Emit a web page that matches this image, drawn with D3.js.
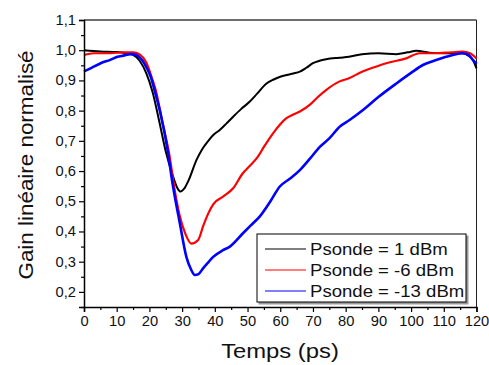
<!DOCTYPE html>
<meta charset="utf-8">
<title>Gain linéaire normalisé</title>
<body>
<script src="https://cdn.jsdelivr.net/npm/d3@7"></script>
<style>
html, body {
    margin: 0;
    background: #fff;
}
svg text {
    font-family: "Liberation Sans", Arial, sans-serif;
    fill: #111;
}
</style>
<script>
// Psonde = 1 dBm
var tBlack = [0, 5, 10, 13, 15, 17, 19, 21, 23, 25, 27, 28.5, 29.5, 30.5, 32, 34.4, 36, 38, 39.6, 41.5, 43.5, 45.6, 48, 50.7, 53, 55.8, 58, 60, 62, 64, 66, 68, 70, 72, 74, 78, 81, 85, 90, 95.5, 99, 101.6, 105.6, 110, 115.7, 117.5, 118.9, 120];
var vBlack = [1.0, 0.996, 0.994, 0.99, 0.985, 0.965, 0.925, 0.86, 0.765, 0.665, 0.59, 0.545, 0.532, 0.54, 0.57, 0.637, 0.67, 0.70, 0.72, 0.736, 0.757, 0.78, 0.805, 0.83, 0.857, 0.89, 0.903, 0.912, 0.918, 0.923, 0.929, 0.942, 0.957, 0.965, 0.97, 0.975, 0.978, 0.987, 0.99, 0.987, 0.993, 0.998, 0.992, 0.99, 0.99, 0.982, 0.968, 0.94];

// Psonde = -6 dBm
var tRed = [0, 3, 8, 12, 15, 17, 19, 21, 22, 24, 26, 28, 29.3, 31, 32.8, 34.9, 36.5, 38, 39.5, 42.5, 45.6, 48.5, 50.5, 53, 55, 57.8, 60, 61.9, 64, 66, 69, 71.5, 74, 78, 81, 85, 88.5, 92.4, 98.5, 102.6, 106, 110.7, 115.8, 118, 120];
var vRed = [0.984, 0.99, 0.99, 0.993, 0.993, 0.986, 0.96, 0.90, 0.865, 0.76, 0.66, 0.52, 0.45, 0.392, 0.36, 0.372, 0.42, 0.46, 0.49, 0.515, 0.543, 0.592, 0.615, 0.645, 0.68, 0.725, 0.755, 0.775, 0.787, 0.797, 0.819, 0.845, 0.868, 0.896, 0.907, 0.929, 0.943, 0.957, 0.973, 0.99, 0.99, 0.992, 0.995, 0.99, 0.973];

// Psonde = -13 dBm
var tBlue = [0, 2, 5.1, 8, 10.2, 12, 14.3, 16, 17.3, 18.5, 20.4, 22, 23.4, 25.4, 27.2, 29.3, 31.3, 32.7, 33.9, 35, 36.4, 38, 39.5, 42.5, 44.6, 48.6, 51, 53.7, 57, 59.8, 63, 66, 69, 72.1, 75, 78.2, 81.2, 85.3, 90, 95.5, 100, 103.6, 107, 110.7, 113, 115.8, 117.5, 118.9, 120];
var vBlue = [0.93, 0.94, 0.957, 0.968, 0.978, 0.982, 0.987, 0.984, 0.973, 0.955, 0.912, 0.85, 0.79, 0.68, 0.55, 0.427, 0.316, 0.275, 0.256, 0.259, 0.278, 0.298, 0.316, 0.338, 0.35, 0.394, 0.42, 0.449, 0.50, 0.548, 0.575, 0.603, 0.64, 0.68, 0.708, 0.747, 0.769, 0.802, 0.845, 0.89, 0.925, 0.951, 0.965, 0.978, 0.985, 0.99, 0.985, 0.968, 0.955];

var series = [
    {name: "Psonde = 1 dBm", t: tBlack, v: vBlack, color: "#000000", width: 2},
    {name: "Psonde = -6 dBm", t: tRed, v: vRed, color: "#ff0000", width: 2.2},
    {name: "Psonde = -13 dBm", t: tBlue, v: vBlue, color: "#0000ff", width: 2.6}
];

var xTicks = d3.range(0, 121, 10);
var yTicks = [0.2, 0.3, 0.4, 0.5, 0.6, 0.7, 0.8, 0.9, 1.0, 1.1];

var width = 489,
    height = 365,
    margin = {top: 20, right: 12, bottom: 58, left: 84};

var x = d3.scaleLinear().domain([0, 120]).range([margin.left, width - margin.right - 0.5]);
var y = d3.scaleLinear().domain([0.15, 1.1]).range([height - margin.bottom, margin.top]);

var svg = d3.select("body").append("svg")
    .attr("width", width)
    .attr("height", height);

var comma = function(d) { return d3.format(".1f")(d).replace(".", ","); };

// the original fonts are a bit wider than Liberation Sans
function stretch(sel, k) {
    sel.each(function() {
        var w = this.getComputedTextLength();
        d3.select(this)
            .attr("textLength", w * k)
            .attr("lengthAdjust", "spacingAndGlyphs");
    });
}

// frame top + right
svg.append("line")
    .attr("x1", x(0)).attr("x2", x(120))
    .attr("y1", y(1.1)).attr("y2", y(1.1))
    .attr("stroke", "#6e6e6e").attr("stroke-width", 2);
svg.append("line")
    .attr("x1", x(120)).attr("x2", x(120))
    .attr("y1", y(1.1)).attr("y2", y(0.15))
    .attr("stroke", "#222").attr("stroke-width", 1);

// curves
var line = d3.line()
    .x(function(d) { return x(d[0]); })
    .y(function(d) { return y(d[1]); })
    .curve(d3.curveMonotoneX);

svg.selectAll(".curve")
    .data(series)
    .enter().append("path")
    .attr("class", "curve")
    .attr("fill", "none")
    .attr("stroke", function(d) { return d.color; })
    .attr("stroke-width", function(d) { return d.width; })
    .attr("stroke-linejoin", "round")
    .attr("d", function(d) { return line(d3.zip(d.t, d.v)); });

// axes
svg.append("g")
    .attr("transform", "translate(0," + y(0.15) + ")")
    .call(d3.axisBottom(x).tickValues(xTicks).tickSize(5).tickPadding(4));
svg.append("g")
    .attr("transform", "translate(0," + y(0.15) + ")")
    .call(d3.axisBottom(x).tickValues(d3.range(5, 120, 10)).tickSize(3).tickFormat(""))
    .select(".domain").remove();

svg.append("g")
    .attr("transform", "translate(" + x(0) + ",0)")
    .call(d3.axisLeft(y).tickValues(yTicks).tickSize(5).tickPadding(3).tickFormat(comma));
svg.append("g")
    .attr("transform", "translate(" + x(0) + ",0)")
    .call(d3.axisLeft(y).tickValues([0.15, 0.25, 0.35, 0.45, 0.55, 0.65, 0.75, 0.85, 0.95, 1.05]).tickSize(3).tickFormat(""))
    .select(".domain").remove();

svg.selectAll(".domain").attr("stroke", "#000").attr("stroke-width", 1.5);
svg.selectAll(".tick line").attr("stroke", "#000").attr("stroke-width", 1.2);
svg.selectAll(".tick text")
    .attr("font-size", 14)
    .attr("font-family", "Liberation Sans, Arial, sans-serif")
    .attr("fill", "#111")
    .call(stretch, 1.05);

// axis titles
svg.append("text")
    .attr("x", 280)
    .attr("y", 358)
    .attr("text-anchor", "middle")
    .attr("font-size", 20)
    .text("Temps (ps)")
    .call(stretch, 1.19);

svg.append("text")
    .attr("transform", "translate(33,165) rotate(-90)")
    .attr("text-anchor", "middle")
    .attr("font-size", 20)
    .text("Gain linéaire normalisé")
    .call(stretch, 1.12);

// legend
var legend = svg.append("g").attr("transform", "translate(257,234)");
legend.append("rect")
    .attr("x", 1.5).attr("y", 1.5)
    .attr("width", 210).attr("height", 69)
    .attr("fill", "#999");
legend.append("rect")
    .attr("width", 209).attr("height", 68)
    .attr("fill", "#fff")
    .attr("stroke", "#000")
    .attr("stroke-width", 1);

var rows = legend.selectAll(".row")
    .data(series)
    .enter().append("g")
    .attr("transform", function(d, i) { return "translate(0," + (15 + i * 21) + ")"; });
rows.append("line")
    .attr("x1", 8).attr("x2", 49)
    .attr("y1", 0).attr("y2", 0)
    .attr("stroke", function(d) { return d.color; })
    .attr("stroke-width", 1.2);
rows.append("text")
    .attr("x", 53)
    .attr("y", 5.5)
    .attr("font-size", 16)
    .text(function(d) { return d.name; })
    .call(stretch, 1.16);
</script>
